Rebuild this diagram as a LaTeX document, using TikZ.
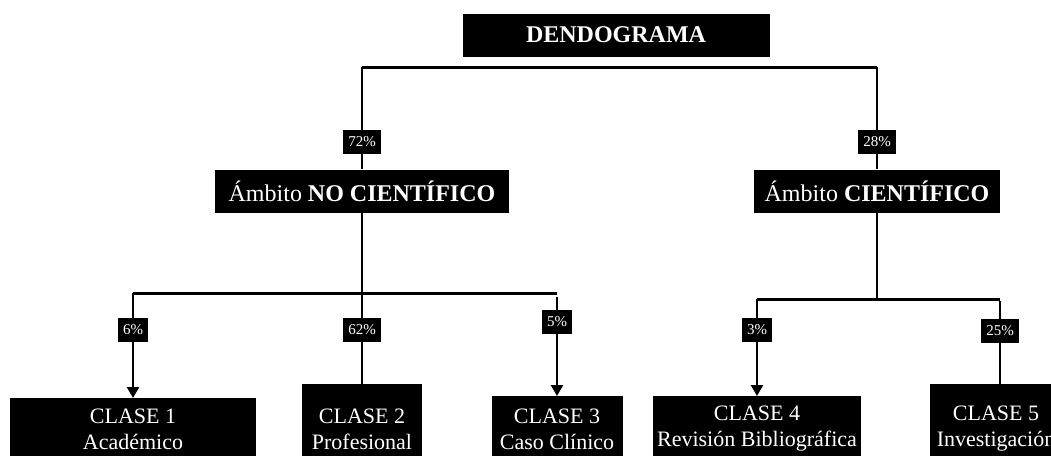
\documentclass[tikz,border=0pt]{standalone}
\usepackage{fontspec}
\setmainfont{Liberation Serif}
\usetikzlibrary{arrows.meta}

\tikzset{
  caja/.style={fill=black, text=white, inner sep=0pt},
  titulo/.style={caja, minimum width=307pt, minimum height=43pt, font=\fontsize{24}{28}\selectfont\bfseries},
  ambito/.style={caja, minimum height=43pt, font=\fontsize{24}{28}\selectfont},
  pct/.style={caja, inner xsep=5pt, minimum height=24pt, font=\fontsize{15}{17}\selectfont},
  clase/.style={caja, anchor=north, minimum height=90pt},
  clasetxt/.style={text=white, align=center, font=\fontsize{22}{26}\selectfont},
  rama/.style={line width=3pt},
  baja/.style={line width=2.4pt},
  flecha/.style={baja, -{Triangle[length=11pt,width=12pt]}}
}

\begin{document}
\begin{tikzpicture}[x=1pt,y=-1pt]
\useasboundingbox (0,0) rectangle (1051,455);
\clip (0,0) rectangle (1051,455);

% titulo y primer nivel
\node[titulo] (dendo) at (616,35) {DENDOGRAMA};
\coordinate (jl) at (362,67);
\coordinate (jr) at (877,67);
\node[pct] (p72) at (362,142) {72\%};
\node[pct] (p28) at (877,142) {28\%};
\node[ambito, minimum width=294pt] (nocien) at (362,191) {Ámbito \textbf{NO CIENTÍFICO}};
\node[ambito, minimum width=246pt] (cien) at (877,191) {Ámbito \textbf{CIENTÍFICO}};

% ramas de las clases
\coordinate (nl) at (362,293);
\coordinate (bl1) at (133,293);
\coordinate (bl3) at (557,293);
\coordinate (nr) at (877,299);
\coordinate (br4) at (757,299);
\coordinate (br5) at (1000,299);
\node[pct] (p6) at (133,330) {6\%};
\node[pct] (p62) at (362,330) {62\%};
\node[pct] (p5) at (557,322) {5\%};
\node[pct] (p3) at (757,330) {3\%};
\node[pct] (p25) at (1000,331) {25\%};

% clases
\node[clase, minimum width=246pt] (c1) at (133,398) {};
\node[clase, minimum width=120pt] (c2) at (362,384) {};
\node[clase, minimum width=131pt] (c3) at (557,396) {};
\node[clase, minimum width=208pt] (c4) at (757,396) {};
\node[clase, minimum width=140pt] (c5) at (1000,384) {};
\node[clasetxt] (t1) at (133,429) {CLASE 1\\Académico};
\node[clasetxt] (t2) at (362,429) {CLASE 2\\Profesional};
\node[clasetxt] (t3) at (557,429) {CLASE 3\\Caso Clínico};
\node[clasetxt] (t4) at (757,429) {CLASE 4\\Revisión Bibliográfica};
\node[clasetxt] (t5) at (996,429) {CLASE 5\\Investigación};

\draw[rama] (jl) -- (jr);
\draw[baja] (jl) -- (p72) -- (nocien);
\draw[baja] (jr) -- (p28) -- (cien);

\draw[baja] (nocien) -- (nl);
\draw[rama] (bl1) -- (bl3);
\draw[baja] (bl1) -- (p6);
\draw[flecha] (p6) -- (c1);
\draw[baja] (nl) -- (p62) -- (c2);
\draw[baja] ([yshift=-4pt]bl3) -- (p5);
\draw[flecha] (p5) -- (c3);

\draw[baja] (cien) -- (nr);
\draw[rama] (br4) -- (br5);
\draw[baja] (br4) -- (p3);
\draw[flecha] (p3) -- (c4);
\draw[baja] ([yshift=-2pt]br5) -- (p25) -- (c5);
\end{tikzpicture}
\end{document}
